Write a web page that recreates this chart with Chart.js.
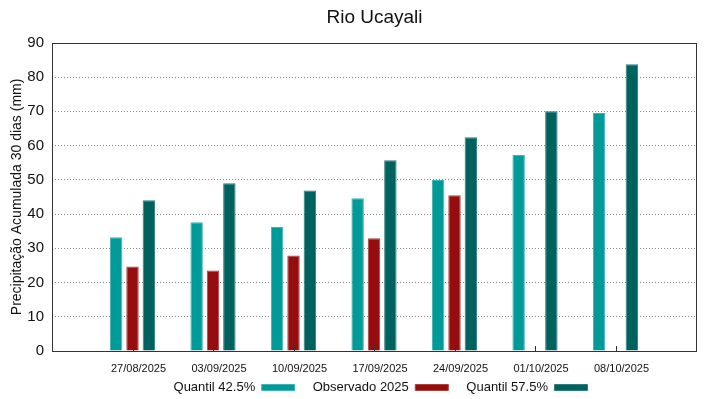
<!DOCTYPE html>
<html>
<head>
<meta charset="utf-8">
<script src="https://cdn.jsdelivr.net/npm/chart.js@4"></script>
<style>
  html, body { margin: 0; padding: 0; background: #fff; }
  #wrap { width: 719px; height: 399px; }
</style>
</head>
<body>
<div id="wrap"><canvas id="chart"></canvas></div>
<script>
// dados
const datas = ['27/08/2025', '03/09/2025', '10/09/2025', '17/09/2025', '24/09/2025', '01/10/2025', '08/10/2025'];
const quantil425 = [33.2, 37.6, 36.2, 44.6, 49.9, 57.2, 69.5];
const observado2025 = [24.7, 23.5, 27.9, 32.9, 45.5, null, null];
const quantil575 = [44.0, 49.0, 46.9, 55.7, 62.4, 70.0, 83.7];
const yTicks = [0, 10, 20, 30, 40, 50, 60, 70, 80, 90];

// uma posicao vazia em cada ponta, como no grafico original
const pad = arr => [null, ...arr, null];
const labels = ['', ...datas, ''];

// moldura + pequenos ticks do eixo x para dentro
const frame = {
    id: 'frame',
    afterDraw(chart) {
        const { ctx, chartArea: a } = chart;
        const x = chart.scales.x;
        ctx.save();
        ctx.strokeStyle = '#333';
        ctx.lineWidth = 1;
        ctx.strokeRect(Math.round(a.left) + 0.5, Math.round(a.top) + 0.5,
            Math.round(a.right - a.left), Math.round(a.bottom - a.top));
        ctx.beginPath();
        for (let i = 1; i <= datas.length; i++) {
            const px = Math.round(x.getPixelForValue(i)) + 0.5;
            ctx.moveTo(px, a.bottom);
            ctx.lineTo(px, a.bottom - 5);
        }
        ctx.stroke();
        ctx.restore();
    }
};

// desloca titulo e legenda (centro da area do grafico, legenda mais acima)
const shift = {
    id: 'shift',
    afterLayout(chart) {
        const a = chart.chartArea;
        const d = (a.left + a.right) / 2 - chart.width / 2 + 12;
        chart.titleBlock.left += d;
        chart.titleBlock.right += d;
        const lg = chart.legend;
        lg.left += d + 6;
        lg.right += d + 6;
        lg.top -= 12;
        lg.bottom -= 12;
    }
};

new Chart(document.getElementById('chart'), {
    type: 'bar',
    data: {
        labels: labels,
        datasets: [
            { label: 'Quantil 42.5%', data: pad(quantil425), backgroundColor: '#009a98', borderColor: '#3fb5b3', borderWidth: 1 },
            { label: 'Observado 2025', data: pad(observado2025), backgroundColor: '#960d10', borderColor: '#b04040', borderWidth: 1 },
            { label: 'Quantil 57.5%', data: pad(quantil575), backgroundColor: '#00625f', borderColor: '#2f7f7c', borderWidth: 1 }
        ]
    },
    options: {
        responsive: true,
        maintainAspectRatio: false,
        animation: false,
        layout: { padding: { left: 0, right: 23, top: 0, bottom: -17 } },
        datasets: { bar: { categoryPercentage: 0.61, barPercentage: 0.76 } },
        plugins: {
            title: {
                display: true,
                text: 'Rio Ucayali',
                color: '#111',
                font: { family: 'Liberation Sans', size: 19, weight: 'normal' },
                padding: { top: 6, bottom: 14 }
            },
            legend: {
                position: 'bottom',
                rtl: true,
                reverse: true,
                textDirection: 'ltr',
                labels: {
                    color: '#111',
                    font: { family: 'Liberation Sans', size: 13 },
                    boxWidth: 33,
                    boxHeight: 6,
                    padding: 18
                }
            },
            tooltip: { enabled: false }
        },
        scales: {
            x: {
                offset: false,
                afterFit: s => { s.height = 24; },
                grid: { display: false },
                border: { display: false },
                ticks: {
                    color: '#111',
                    font: { family: 'Liberation Sans', size: 11 },
                    maxRotation: 0,
                    autoSkip: false,
                    labelOffset: 6,
                    padding: 3
                }
            },
            y: {
                min: 0,
                max: 90,
                afterFit: s => { s.width = 52; },
                afterBuildTicks: s => { s.ticks = yTicks.map(v => ({ value: v })); },
                border: { display: false, dash: [1, 2] },
                grid: {
                    drawTicks: false,
                    color: c => (c.tick.value === 0 || c.tick.value === 90) ? 'rgba(0,0,0,0)' : '#888',
                    lineWidth: 1
                },
                ticks: {
                    color: '#111',
                    font: { family: 'Liberation Sans', size: 15 },
                    padding: 8
                },
                title: {
                    display: true,
                    text: 'Precipitação Acumulada 30 dias (mm)',
                    color: '#111',
                    font: { family: 'Liberation Sans', size: 14 },
                    padding: { top: 9, bottom: 2 }
                }
            }
        }
    },
    plugins: [frame, shift]
});
</script>
</body>
</html>
